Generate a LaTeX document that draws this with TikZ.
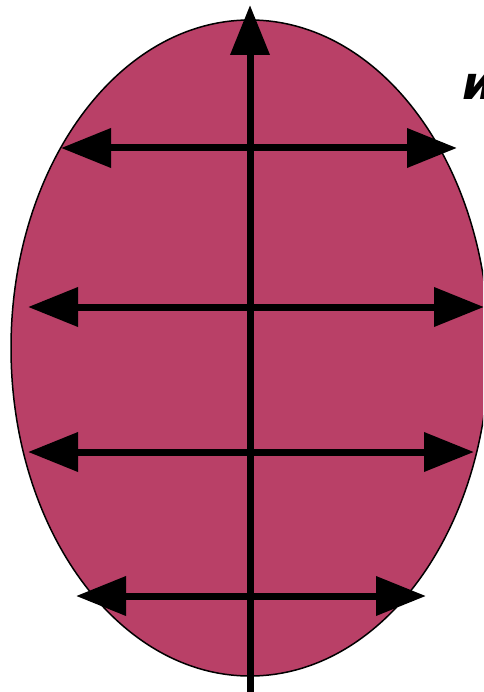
\documentclass[tikz,border=0pt]{standalone}
\usepackage{fontspec}
\newfontfamily\cyrfont{DejaVu Sans}
\usetikzlibrary{arrows.meta}
\definecolor{shell}{RGB}{185,64,103}

\tikzset{
  axis/.style={line width=7pt, -{Triangle[length=50pt,width=38pt]}},
  twoway/.style={line width=7pt, {Triangle[length=50pt,width=38pt]}-{Triangle[length=50pt,width=38pt]}}
}

\begin{document}
\begin{tikzpicture}[x=1pt,y=-1pt]
\useasboundingbox (0,0) rectangle (483,692);
\clip (0,0) rectangle (483,692);

\fill[shell, draw=black, line width=1.5pt] (250,348) ellipse [x radius=239, y radius=328];

\coordinate (bottom) at (250,700);
\coordinate (top) at (250,5);
\foreach \k/\y/\l/\r in {1/148/61/457, 2/307/28/484, 3/452/28/474, 4/596/76/426} {
  \coordinate (L\k) at (\l,\y);
  \coordinate (R\k) at (\r,\y);
  \draw[twoway] (L\k) -- (R\k);
}
\draw[axis] (bottom) -- (top);

\node[anchor=base west, inner sep=0pt] (mark) at (462,100) {\fontsize{46}{50}\selectfont\cyrfont\bfseries\itshape и};
\end{tikzpicture}
\end{document}
